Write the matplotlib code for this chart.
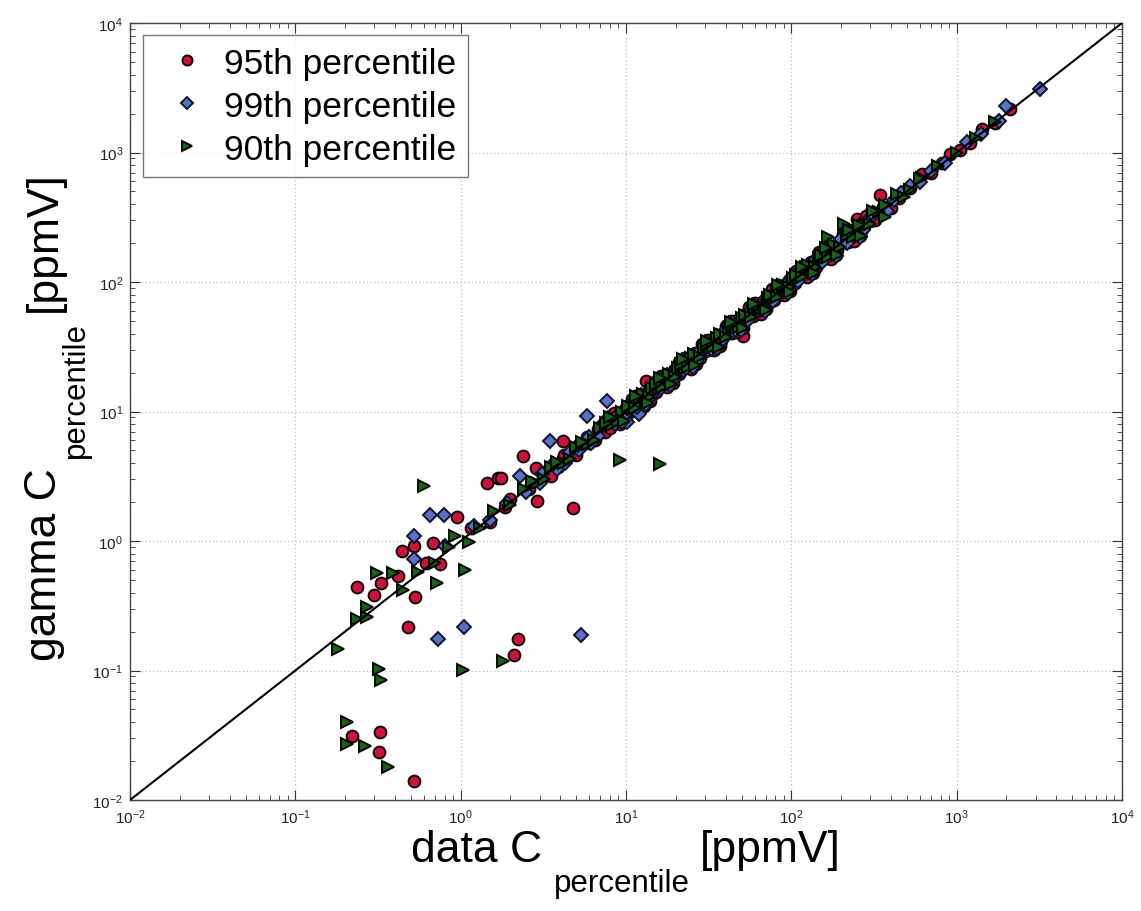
import numpy as np
import matplotlib
matplotlib.use("Agg")
import matplotlib.pyplot as plt
from matplotlib.ticker import LogLocator, NullFormatter

plt.rcParams['font.family'] = ['Liberation Sans', 'DejaVu Sans']
plt.rcParams['mathtext.fontset'] = 'custom'
plt.rcParams['mathtext.rm'] = 'Liberation Sans'
plt.rcParams['mathtext.it'] = 'Liberation Sans'

# 95th percentile (red circles): data vs gamma
p95_x = [0.219, 0.325, 0.32, 0.52, 0.48, 0.235, 0.30, 0.33, 0.42, 0.53, 0.62, 0.75,
         0.44, 0.52, 0.68, 0.95, 1.44, 1.68, 1.75, 2.39, 2.86, 2.88, 4.76, 4.18, 2.23,
         2.1, 1.86, 13.3, 51, 344, 249,
         1.15, 1.5, 2.0, 2.6, 3.2, 3.9, 4.6,
         5.3, 6.0, 6.8, 7.5, 8.3, 9.0, 9.8, 10.7, 11.5, 12.4, 13.6, 14.8, 16.0, 17.2,
         18.6, 20.1, 21.7, 23.4, 25.2, 27.0, 29.1, 31.3, 33.8, 36.4, 39.2, 42.0, 45.3,
         48.8, 52.5, 56.5, 60.8, 65.4, 70.4, 75.8, 81.6, 87.8, 94.5, 101.7, 109.5,
         117.9, 126.9, 136.6, 147, 158, 170, 183, 197, 212, 228, 275, 300, 330, 390,
         450, 520, 615, 700, 820, 910, 1050, 1200, 1420, 1700, 2090,
         3.5, 4.2, 5.0, 5.8, 6.5, 7.2, 8.0, 8.7, 9.4, 10.2, 11.0, 11.9, 12.9, 14.0,
         15.2, 16.5, 17.9, 19.4, 21.0, 22.6, 24.4, 26.2, 28.2, 30.3, 32.6, 35.0, 37.7,
         40.6, 43.7, 47.0, 50.6, 54.4, 58.6, 63.0, 67.8, 73.0, 78.6, 84.6, 91.0, 98.0,
         105, 113, 122, 131, 141, 152, 164, 176, 190, 205, 220, 245, 265, 290, 320,
         360, 400,
         8.5, 10.0, 11.8, 13.9, 16.3, 19.2, 22.6, 26.6, 31.3, 36.8, 43.3, 51.0, 60.0,
         70.6, 83.1, 97.8, 115, 135, 159, 187, 220, 259, 305,
         9.2, 10.9, 12.8, 15.1, 17.7, 20.9, 24.6, 28.9, 34.0, 40.0, 47.1, 55.4, 65.2,
         76.7, 90.3, 106, 125, 147, 173, 204, 240, 282]
p95_y = [0.031, 0.0333, 0.0233, 0.0141, 0.216, 0.44, 0.38, 0.47, 0.54, 0.37, 0.68, 0.66,
         0.84, 0.92, 0.97, 1.52, 2.8, 3.06, 3.08, 4.5, 3.64, 2.05, 1.79, 5.96, 0.175,
         0.132, 1.82, 17.3, 38.5, 470, 306,
         1.25, 1.4, 2.1, 2.5, 3.4, 3.7, 4.8,
         5.6, 5.7, 7.3, 7.0, 8.9, 8.6, 10.4, 10.1, 12.3, 11.8, 14.2, 14.0, 16.9, 16.5,
         19.5, 19.2, 22.8, 22.3, 26.4, 25.9, 30.5, 30.0, 35.2, 35.1, 41.0, 40.3, 47.2,
         46.9, 54.8, 54.3, 63.4, 62.9, 73.1, 72.9, 84.8, 84.5, 98.2, 97.8, 114,
         113, 132, 131, 153, 152, 177, 176, 205, 204, 237, 270, 296, 338, 382,
         445, 530, 682, 690, 835, 980, 1040, 1180, 1510, 1690, 2170,
         3.2, 4.6, 4.6, 6.3, 6.0, 7.9, 7.4, 9.5, 8.7, 11.1, 10.2, 12.9, 11.9, 15.2,
         14.1, 17.9, 16.6, 21.0, 19.5, 24.5, 22.6, 28.4, 26.1, 32.8, 30.2, 37.9, 35.0,
         43.9, 40.5, 50.8, 47.0, 58.8, 54.4, 68.1, 62.9, 78.9, 72.9, 91.4, 84.4, 106,
         97.5, 122, 113, 142, 131, 164, 152, 190, 176, 221, 204, 262, 247, 305, 300,
         378, 372,
         9.8, 8.7, 13.5, 12.1, 18.7, 16.7, 25.9, 23.1, 35.8, 32.0, 49.6, 44.3, 68.7,
         61.4, 95.1, 85.0, 131, 118, 182, 163, 252, 225, 348,
         8.0, 12.5, 11.1, 17.3, 15.4, 24.0, 21.4, 33.2, 29.6, 46.0, 41.0, 63.7, 56.8,
         88.2, 78.7, 122, 109, 169, 151, 234, 209, 324]

# 99th percentile (blue diamonds)
p99_x = [0.65, 0.79, 0.52, 0.52, 0.73, 1.05, 5.35, 3.47, 2.29, 7.66, 0.80, 5.78,
         1.2, 1.5, 1.9, 2.5, 3.1, 3.8, 4.5, 5.2, 6.0, 6.8, 10.2, 12, 8.2, 9.0, 9.8,
         13.0, 14.2, 15.5, 17.0, 18.5, 20.2, 22.0, 24.0, 26.2, 28.6, 31.2, 34.0, 37.1,
         40.5, 44.2, 48.2, 52.6, 57.4, 62.6, 68.3, 74.5, 81.3, 88.7, 96.8, 105.6, 115,
         126, 137, 150, 164, 179, 195, 213, 240, 290, 350, 420, 523, 600, 700, 850,
         1150, 1400, 1800, 2000, 3200,
         3.0, 3.6, 4.3, 5.1, 6.1, 7.3, 8.6, 10.8, 11.6, 12.4, 13.6, 14.9, 16.3, 17.8,
         19.4, 21.2, 23.1, 25.2, 27.4, 29.9, 32.6, 35.5, 38.7, 42.2, 46.0, 50.1, 54.6,
         59.5, 64.9, 70.7, 77.1, 84.0, 91.6, 99.8, 109, 119, 129, 141, 153, 167, 182,
         199, 216, 250, 270, 310, 380, 460,
         7.8, 9.5, 11.2, 13.2, 15.6, 18.4, 21.7, 25.6, 30.2, 35.6, 42.0, 49.6, 58.5,
         69.0, 81.4, 96.1, 113, 134, 158, 186, 219, 259]
p99_y = [1.58, 1.58, 1.1, 0.73, 0.175, 0.218, 0.188, 5.96, 3.19, 12.1, 0.92, 9.3,
         1.3, 1.45, 1.95, 2.4, 3.3, 3.6, 4.8, 5.0, 6.4, 6.5, 8.3, 9.6, 8.6, 9.4, 9.5,
         13.2, 14.9, 14.8, 17.8, 17.6, 21.1, 21.0, 25.2, 25.0, 29.9, 29.8, 35.6, 35.4,
         42.3, 42.1, 50.4, 50.2, 60.0, 59.8, 71.4, 71.1, 85.0, 84.7, 101, 101, 120,
         120, 143, 143, 171, 171, 204, 203, 236, 300, 340, 430, 555, 590, 715, 830,
         1200, 1380, 1750, 2300, 3090,
         2.8, 3.9, 4.0, 5.5, 5.7, 7.8, 8.0, 11.6, 10.8, 13.3, 12.6, 16.0, 15.2, 19.1,
         18.0, 22.7, 21.5, 27.0, 25.5, 32.1, 30.3, 38.1, 36.0, 45.3, 42.8, 53.8, 50.8,
         63.9, 60.3, 75.9, 71.6, 90.1, 85.1, 107, 101, 127, 120, 151, 142, 179, 169,
         213, 201, 265, 252, 330, 355, 490,
         8.9, 8.3, 12.8, 11.5, 17.9, 16.0, 24.8, 22.2, 34.5, 30.9, 47.9, 42.9, 66.5,
         59.6, 92.4, 82.7, 128, 115, 178, 160, 248, 222]

# 90th percentile (green triangles)
p90_x = [0.60, 0.31, 0.39, 0.235, 0.27, 0.18, 0.32, 0.33, 1.04, 0.205, 0.205, 0.264,
         0.366, 1.06, 0.72, 0.92, 0.27, 9.2, 16.1, 1.81,
         0.45, 0.55, 0.7, 0.85, 1.13, 1.3, 1.6, 2.0, 2.4, 2.9, 3.5, 4.2, 5.0, 5.9,
         7.0, 8.2, 9.5, 11.0,
         12.1, 13.2, 14.4, 15.8, 17.3, 18.9, 20.7, 22.6, 24.7, 27.0, 29.5, 32.3, 35.3,
         38.6, 42.2, 46.1, 50.4, 55.1, 60.2, 65.8, 71.9, 78.6, 85.9, 93.9, 102.6, 112,
         122, 134, 146, 160, 166, 175, 191, 207, 230, 280, 340, 434, 520, 620, 773,
         1000, 1300, 1700,
         2.7, 3.2, 3.8, 4.6, 5.4, 6.4, 7.6, 8.9, 10.3, 11.4, 12.7, 13.8, 15.1, 16.5,
         18.1, 19.8, 21.6, 23.6, 25.8, 28.2, 30.8, 33.7, 36.8, 40.2, 43.9, 48.0, 52.4,
         57.3, 62.6, 68.4, 74.7, 81.6, 89.2, 97.4, 106, 116, 127, 139, 152, 166, 181,
         198, 216, 236, 258, 300, 370, 480, 600,
         8.0, 9.7, 11.5, 13.5, 16.0, 18.8, 22.2, 26.2, 30.9, 36.4, 43.0, 50.7, 59.8,
         70.5, 83.2, 98.2, 116, 137, 161, 190, 224, 265, 312, 368]
p90_y = [2.64, 0.57, 0.57, 0.25, 0.26, 0.147, 0.103, 0.0845, 0.101, 0.040, 0.027, 0.026,
         0.018, 0.60, 0.47, 1.1, 0.31, 4.25, 3.94, 0.119,
         0.42, 0.58, 0.68, 0.9, 0.98, 1.25, 1.7, 1.9, 2.5, 2.8, 3.7, 4.0, 5.3, 5.6,
         7.4, 7.8, 10.0, 10.5,
         12.7, 12.6, 15.1, 15.0, 18.1, 18.0, 21.7, 21.5, 25.9, 25.7, 30.9, 30.7, 37.0,
         36.8, 44.2, 43.9, 52.8, 52.5, 63.1, 62.7, 75.3, 74.9, 90.0, 89.5, 107.5, 107,
         128, 127, 153, 152, 224, 183, 182, 280, 240, 275, 350, 479, 510, 640, 790,
         990, 1290, 1720,
         2.9, 3.0, 4.1, 4.3, 5.8, 6.0, 8.1, 8.4, 11.0, 10.7, 13.6, 13.0, 16.2, 15.5,
         19.4, 18.6, 23.1, 22.2, 27.6, 26.5, 33.0, 31.7, 39.4, 37.8, 47.0, 45.1, 56.1,
         53.8, 67.0, 64.3, 80.0, 76.7, 95.5, 91.6, 114, 109, 136, 131, 163, 156, 194,
         186, 232, 222, 276, 282, 395, 455, 620,
         9.1, 8.5, 13.1, 11.7, 18.3, 16.3, 25.3, 22.7, 35.2, 31.5, 48.9, 43.8, 67.9,
         60.9, 94.3, 84.4, 131, 117, 182, 163, 253, 227, 355, 318]

one_to_one = [1e-2, 1e4]
labels = ['95th percentile', '99th percentile', '90th percentile']

W, H = 1141, 912
fig = plt.figure(figsize=(W / 100, H / 100), dpi=100)
ax = fig.add_axes([130 / W, 111 / H, 992 / W, 777 / H])

ax.plot(p95_x, p95_y, 'o', ms=8.5, mfc='#c8143f', mec='#1a0206', mew=1.4,
        label=labels[0], zorder=3)
ax.plot(p99_x, p99_y, 'D', ms=7, mfc='#5b70c2', mec='#0e1430', mew=1.4,
        label=labels[1], zorder=3)
ax.plot(p90_x, p90_y, '>', ms=9, mfc='#1f5c20', mec='#020a02', mew=1.4,
        label=labels[2], zorder=3)
ax.plot(one_to_one, one_to_one, color='k', lw=1.5, zorder=4)

ax.set_xscale('log')
ax.set_yscale('log')
ax.set_xlim(1e-2, 1e4)
ax.set_ylim(1e-2, 1e4)
for axis in (ax.xaxis, ax.yaxis):
    axis.set_major_locator(LogLocator(base=10, numticks=10))
    axis.set_minor_locator(LogLocator(base=10, subs=np.arange(2, 10), numticks=20))
    axis.set_minor_formatter(NullFormatter())
ax.grid(True, which='major', color='#bdbdbd', linestyle=(0, (1, 2)), lw=0.9)
ax.tick_params(which='both', direction='in', top=True, right=True,
               colors='#333333', labelcolor='#222222')
ax.tick_params(which='major', length=7, labelsize=11, pad=5)
ax.tick_params(which='minor', length=3.5)
for sp in ax.spines.values():
    sp.set_color('#444444')
    sp.set_linewidth(1.0)

leg = ax.legend(loc='upper left', bbox_to_anchor=(143 / W, 1 - 36 / H),
                bbox_transform=fig.transFigure, borderaxespad=0,
                fontsize=25.5, frameon=True, fancybox=False, numpoints=1,
                borderpad=0.33, handlelength=1.84, handletextpad=0.12,
                labelspacing=0.28, markerscale=0.85)
leg.get_frame().set_edgecolor('#555555')
leg.get_frame().set_linewidth(1.0)

# axis labels built from pieces so the subscript can sit low, as in the original
renderer = fig.canvas.get_renderer()


def label_parts(parts, start, base, vertical):
    pos = start
    for s, size, drop, gap in parts:
        if vertical:
            t = fig.text((base + drop) / W, pos / H, s, fontsize=size, rotation=90,
                         rotation_mode='anchor', ha='left', va='baseline')
            pos += t.get_window_extent(renderer).height + gap
        else:
            t = fig.text(pos / W, (base - drop) / H, s, fontsize=size, ha='left',
                         va='baseline')
            pos += t.get_window_extent(renderer).width + gap


def total_len(parts, vertical):
    n = 0
    for s, size, drop, gap in parts:
        t = fig.text(0.5, 0.5, s, fontsize=size, rotation=90 if vertical else 0)
        bb = t.get_window_extent(renderer)
        n += (bb.height if vertical else bb.width) + gap
        t.remove()
    return n - parts[-1][3]


xparts = [('data C', 32, 0, 12), ('percentile', 22.5, 30, 10), ('[ppmV]', 32, 0, 0)]
yparts = [('gamma C', 32, 0, 10), ('percentile', 22.5, 28, 10), ('[ppmV]', 32, 0, 0)]

xl = total_len(xparts, False)
label_parts(xparts, 626 - xl / 2, H - 862, False)
yl = total_len(yparts, True)
label_parts(yparts, (H - 416) - yl / 2, 56, True)

fig.savefig('out.png', dpi=100)
